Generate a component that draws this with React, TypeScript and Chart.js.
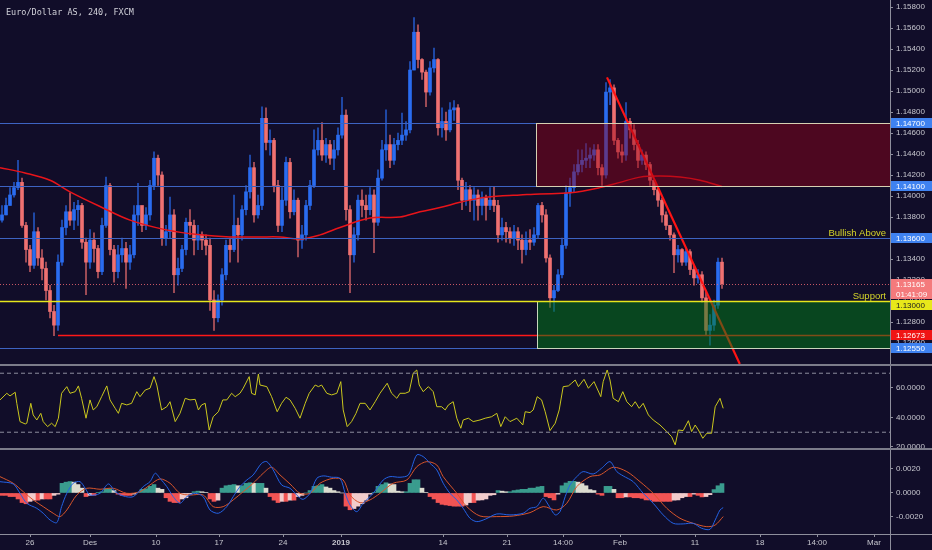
import React, { useEffect, useRef } from 'react';
import { Chart, registerables } from 'chart.js';

Chart.register(...registerables);

// ---------------- data ----------------
// time axis: candle index (one candle = one 8h step on screen)
const xTickPositions = [7, 22, 38.5, 54.25, 70.25, 84.75, 110.25, 126.25, 140.25, 154.5, 173.25, 189.5, 203.75, 218];
const xTickLabels = ['26', 'Des', '10', '17', '24', '2019', '14', '21', '14:00', 'Feb', '11', '18', '14:00', 'Mar'];
const priceTicks = [1.126, 1.128, 1.13, 1.132, 1.134, 1.136, 1.138, 1.14, 1.142, 1.144, 1.146, 1.148, 1.15, 1.152, 1.154, 1.156, 1.158];
const rsiTicks = [20, 40, 60];
const macdTicks = [-0.002, 0, 0.002];

const firstOpen = 1.1377;
const closes = [
  1.1382, 1.1391, 1.1401, 1.1408, 1.1413, 1.1372, 1.1349, 1.1334, 1.1366, 1.1341,
  1.1331, 1.1310, 1.1290, 1.1277, 1.1337, 1.1370, 1.1385, 1.1377, 1.1387, 1.1391,
  1.1356, 1.1337, 1.1358, 1.1350, 1.1328, 1.1372, 1.1410, 1.1349, 1.1328, 1.1344,
  1.1350, 1.1337, 1.1344, 1.1382, 1.1391, 1.1372, 1.1382, 1.1410, 1.1436, 1.1420,
  1.1360, 1.1366, 1.1382, 1.1325, 1.1331, 1.1349, 1.1375, 1.1372, 1.1358, 1.1363,
  1.1358, 1.1353, 1.1301, 1.1284, 1.1301, 1.1325, 1.1353, 1.1349, 1.1372, 1.1363,
  1.1387, 1.1404, 1.1427, 1.1382, 1.1391, 1.1474, 1.1451, 1.1453, 1.1410, 1.1372,
  1.1396, 1.1432, 1.1385, 1.1396, 1.1358, 1.1363, 1.1391, 1.1410, 1.1444, 1.1453,
  1.1439, 1.1449, 1.1436, 1.1444, 1.1458, 1.1477, 1.1387, 1.1344, 1.1363, 1.1396,
  1.1391, 1.1387, 1.1401, 1.1375, 1.1417, 1.1444, 1.1449, 1.1434, 1.1449, 1.1453,
  1.1458, 1.1463, 1.1520, 1.1556, 1.1530, 1.1518, 1.1499, 1.1522, 1.1530, 1.1465,
  1.1471, 1.1463, 1.1482, 1.1484, 1.1415, 1.1396, 1.1406, 1.1396, 1.1401, 1.1391,
  1.1398, 1.1391, 1.1396, 1.1391, 1.1363, 1.1370, 1.1366, 1.1360, 1.1366, 1.1358,
  1.1349, 1.1358, 1.1356, 1.1363, 1.1391, 1.1382, 1.1341, 1.1303, 1.1310, 1.1325,
  1.1353, 1.1403, 1.1408, 1.1423, 1.1430, 1.1434, 1.1436, 1.1439, 1.1444, 1.1427,
  1.1420, 1.1499, 1.1503, 1.1453, 1.1442, 1.1439, 1.1471, 1.1463, 1.1449, 1.1434,
  1.1439, 1.1430, 1.1415, 1.1406, 1.1396, 1.1382, 1.1372, 1.1363, 1.1344, 1.1349,
  1.1337, 1.1347, 1.1330, 1.1322, 1.1325, 1.1303, 1.1272, 1.1277, 1.1296, 1.1337,
  1.13165,
];
const highs = [
  1.1391, 1.1398, 1.1408, 1.1413, 1.1434, 1.1417, 1.1375, 1.1353, 1.1384, 1.1370,
  1.1349, 1.1337, 1.1315, 1.1296, 1.1344, 1.1377, 1.1391, 1.1403, 1.1394, 1.1396,
  1.1393, 1.1360, 1.1368, 1.1365, 1.1353, 1.1379, 1.1418, 1.1412, 1.1353, 1.1353,
  1.1360, 1.1356, 1.1353, 1.1391, 1.1412, 1.1387, 1.1389, 1.1415, 1.1442, 1.1439,
  1.1423, 1.1372, 1.1399, 1.1387, 1.1341, 1.1353, 1.1379, 1.1387, 1.1377, 1.1372,
  1.1366, 1.1363, 1.1360, 1.1310, 1.1306, 1.1331, 1.1358, 1.1360, 1.1401, 1.1379,
  1.1391, 1.1410, 1.1439, 1.1432, 1.1401, 1.1485, 1.1484, 1.1463, 1.1455, 1.1415,
  1.1408, 1.1437, 1.1436, 1.1406, 1.1398, 1.1372, 1.1396, 1.1415, 1.1463, 1.1465,
  1.1470, 1.1455, 1.1453, 1.1453, 1.1465, 1.1494, 1.1482, 1.1391, 1.1370, 1.1401,
  1.1406, 1.1401, 1.1408, 1.1406, 1.1425, 1.1453, 1.1482, 1.1458, 1.1455, 1.1460,
  1.1479, 1.1471, 1.1528, 1.1570, 1.1563, 1.1531, 1.1520, 1.1528, 1.1541, 1.1531,
  1.1484, 1.1480, 1.1489, 1.1491, 1.1487, 1.1417, 1.1413, 1.1410, 1.1408, 1.1406,
  1.1404, 1.1401, 1.1408, 1.1409, 1.1396, 1.1379, 1.1375, 1.1370, 1.1372, 1.1370,
  1.1363, 1.1366, 1.1368, 1.1370, 1.1393, 1.1394, 1.1387, 1.1344, 1.1315, 1.1330,
  1.1360, 1.1410, 1.1417, 1.1430, 1.1444, 1.1444, 1.1450, 1.1446, 1.1449, 1.1449,
  1.1430, 1.1508, 1.1511, 1.1506, 1.1455, 1.1449, 1.1489, 1.1474, 1.1468, 1.1453,
  1.1444, 1.1442, 1.1432, 1.1415, 1.1408, 1.1398, 1.1385, 1.1372, 1.1365, 1.1353,
  1.1350, 1.1350, 1.1349, 1.1334, 1.1330, 1.1328, 1.1309, 1.1287, 1.1301, 1.1341,
  1.1341,
];
const lows = [
  1.1375, 1.1382, 1.1391, 1.1399, 1.1406, 1.1370, 1.1337, 1.1328, 1.1331, 1.1334,
  1.1320, 1.1301, 1.1284, 1.1267, 1.1272, 1.1334, 1.1363, 1.1372, 1.1368, 1.1372,
  1.1350, 1.1306, 1.1331, 1.1337, 1.1322, 1.1325, 1.1370, 1.1344, 1.1318, 1.1322,
  1.1337, 1.1312, 1.1330, 1.1341, 1.1372, 1.1366, 1.1368, 1.1377, 1.1406, 1.1410,
  1.1353, 1.1353, 1.1360, 1.1308, 1.1315, 1.1328, 1.1344, 1.1363, 1.1344, 1.1349,
  1.1349, 1.1344, 1.1291, 1.1272, 1.1280, 1.1296, 1.1320, 1.1337, 1.1347, 1.1337,
  1.1358, 1.1382, 1.1398, 1.1375, 1.1379, 1.1387, 1.1444, 1.1439, 1.1404, 1.1366,
  1.1366, 1.1391, 1.1379, 1.1382, 1.1342, 1.1350, 1.1358, 1.1387, 1.1408, 1.1439,
  1.1434, 1.1432, 1.1430, 1.1425, 1.1439, 1.1455, 1.1377, 1.1308, 1.1337, 1.1358,
  1.1380, 1.1377, 1.1382, 1.1346, 1.1372, 1.1415, 1.1434, 1.1427, 1.1430, 1.1444,
  1.1449, 1.1453, 1.1460, 1.1520, 1.1522, 1.1511, 1.1485, 1.1496, 1.1518, 1.1458,
  1.1456, 1.1453, 1.1461, 1.1472, 1.1406, 1.1387, 1.1391, 1.1385, 1.1377, 1.1377,
  1.1382, 1.1377, 1.1387, 1.1385, 1.1356, 1.1358, 1.1356, 1.1355, 1.1353, 1.1349,
  1.1336, 1.1344, 1.1349, 1.1353, 1.1360, 1.1375, 1.1337, 1.1294, 1.1290, 1.1309,
  1.1322, 1.1350, 1.1390, 1.1404, 1.1420, 1.1423, 1.1427, 1.1427, 1.1434, 1.1420,
  1.1410, 1.1417, 1.1487, 1.1449, 1.1436, 1.1432, 1.1434, 1.1455, 1.1444, 1.1427,
  1.1430, 1.1425, 1.1410, 1.1401, 1.1390, 1.1375, 1.1368, 1.1358, 1.1327, 1.1337,
  1.1334, 1.1334, 1.1325, 1.1315, 1.1317, 1.1299, 1.1267, 1.1258, 1.1272, 1.1293,
  1.1312,
];
const opens = closes.map((c, i) => (i === 0 ? firstOpen : closes[i - 1]));

// moving average (red line)
const maTime = [-0.5, 5.75, 12, 17, 24.5, 32, 40.75, 49.5, 57, 64.5, 69.5, 74.5, 79.5, 84.5, 92, 99.5, 104.5, 109.5, 114.5, 119.5, 124.5, 129.5, 134.5, 142, 149.5, 154.5, 159.5, 164.5, 169.5, 174.5, 180];
const maValue = [1.1427, 1.1422, 1.1415, 1.1404, 1.1390, 1.1377, 1.1368, 1.1363, 1.1361, 1.1361, 1.1361, 1.1359, 1.1363, 1.1370, 1.1379, 1.1380, 1.1385, 1.1389, 1.1394, 1.1398, 1.1400, 1.1401, 1.1402, 1.1403, 1.1408, 1.1413, 1.1418, 1.1419, 1.1418, 1.1415, 1.1409];

// drawings
const trendTime = [151.25, 184.45];
const trendValue = [1.1513, 1.124];
const resistZone = [1.141, 1.147];
const supportZone = [1.1255, 1.13];
const zoneStart = [133.5, 133.75];
const levelValues = [1.147, 1.141, 1.136, 1.13165, 1.13, 1.12673, 1.1255];
const swingLowStart = 14;
const levelTexts = ['Bullish Above', 'Support'];
const countdownText = '01:41:09';

// RSI
const rsiTime = [
  -0.5, 1.2, 2, 3.3, 3.7, 4.5, 5.8, 6.2, 7.2, 7.8, 8.7, 9.7, 10.3, 11.4, 12.4, 13.3, 14.1, 14.9, 16.2, 17,
  18.3, 19.1, 19.9, 21, 22, 22.8, 23.7, 24.9, 26.2, 27, 28.3, 29.1, 29.9, 31.2, 32.4, 33.7, 34.5, 35.8, 37, 38,
  38.7, 39.9, 41.2, 42, 43.3, 44.5, 45.8, 47, 48.3, 49.1, 49.9, 50.8, 51.8, 52.8, 54.1, 55.2, 56.2, 57.4, 58.3, 59.5,
  60.3, 61.8, 62.4, 63.3, 64.1, 64.5, 66.2, 67.4, 68.8, 69.9, 71, 72, 73.3, 74.5, 75.8, 76.8, 78.3, 79.1, 79.9, 81.2,
  82.4, 83.7, 84.7, 85.3, 86.3, 87.4, 88.5, 89.5, 90.8, 92, 93.3, 94.5, 96.3, 97.4, 98.7, 99.5, 100.8, 101.8, 102.8, 103.7,
  104.3, 105.3, 106.6, 107.8, 108.7, 109.9, 110.8, 111.6, 112.8, 113.7, 114.7, 115.3, 116.6, 117.8, 119.5, 120.8, 122.4, 123.7, 124.7, 125.8,
  127, 128.7, 130.2, 130.8, 132, 132.8, 133.8, 134.9, 135.8, 137, 138.3, 139.3, 140.3, 141.6, 142.4, 143.3, 144.1, 145.5, 146.6, 148,
  149.7, 150.3, 151.3, 152, 152.8, 154.1, 155.2, 156.2, 157.4, 158.3, 159.3, 160.3, 161.6, 162.8, 164.5, 166.2, 167.4, 168.3, 169.1, 170.3,
  171.6, 172.4, 173.3, 174.1, 175.2, 176.2, 177.4, 178.3, 179.5, 180.3,
];
const rsiValue = [
  51.9, 56.4, 54.6, 57.1, 49.6, 37.2, 35.6, 36.1, 49.6, 41.7, 38.3, 42.8, 37.2, 33.8, 36.1, 33.8, 39.5, 56.4, 60.9, 56.4,
  57.5, 61.4, 53.0, 39.5, 51.9, 45.1, 47.3, 54.1, 61.4, 51.9, 46.2, 42.8, 49.6, 48.5, 49.6, 57.5, 54.1, 58.6, 59.8, 67.7,
  62.0, 45.1, 47.3, 50.7, 37.2, 42.8, 53.0, 51.9, 52.3, 45.1, 48.5, 49.6, 31.5, 40.5, 43.9, 51.9, 51.9, 56.4, 54.1, 56.4,
  59.8, 67.7, 56.4, 55.3, 69.5, 62.0, 60.9, 54.1, 43.9, 49.6, 53.7, 51.9, 46.2, 39.5, 49.6, 56.4, 62.0, 60.9, 62.0, 56.4,
  55.3, 56.4, 64.3, 45.1, 33.8, 37.2, 42.8, 49.6, 49.6, 45.1, 50.7, 56.4, 63.2, 56.4, 53.0, 56.4, 56.4, 57.5, 70.0, 72.2,
  62.0, 57.5, 60.9, 57.5, 47.3, 47.3, 45.1, 48.5, 50.7, 39.5, 32.7, 38.3, 39.5, 37.2, 38.3, 39.5, 40.5, 42.8, 33.8, 40.5,
  37.2, 39.5, 34.9, 43.9, 43.3, 45.1, 54.1, 51.9, 43.9, 31.1, 36.1, 45.1, 60.9, 61.4, 63.2, 65.4, 60.9, 65.9, 59.8, 64.3,
  54.1, 64.3, 72.2, 65.4, 53.0, 50.7, 57.5, 50.7, 47.3, 50.7, 46.2, 49.6, 41.7, 38.3, 34.9, 30.4, 27.0, 21.4, 31.5, 31.1,
  37.8, 30.4, 34.9, 31.5, 25.9, 29.3, 29.3, 47.3, 53.0, 46.2,
];
const rsiBands = [70, 30];

// MACD (values in units of 0.0001)
const macdTime = [
  -0.5, 2.8, 4.5, 6.2, 8.7, 10.3, 12, 13.7, 14.9, 16.2, 17.8, 19.5, 20.8, 22, 24.5, 26.6, 28.3, 30.3, 32.8, 35.3,
  37, 38.3, 39.5, 41.2, 42.8, 44.5, 46.2, 48.3, 50.3, 52, 54.1, 56.2, 57.8, 59.5, 61.2, 62.8, 64.9, 66.2, 67.8, 69.9,
  72, 74.1, 75.3, 77, 78.7, 80.3, 82.4, 84.5, 85.8, 87, 88.7, 90.3, 92.8, 95.3, 97, 99.5, 101.6, 103.7, 105.3, 107,
  108.7, 110.3, 112, 113.7, 115.3, 117, 118.7, 120.8, 123.7, 127, 130.3, 132, 133.7, 135.3, 136.6, 138.3, 139.5, 140.8, 142, 143.7,
  145.3, 147.8, 149.9, 152, 153.7, 155.3, 157.8, 160.3, 162.8, 165.3, 167.8, 170.3, 172.8, 174.9, 177, 178.3, 179.5, 180.3,
];
const macdLineE4 = [
  9.4, 7.5, -0.3, -8.6, -12.8, -16.9, -22.5, -24.7, -11.4, -0.3, 8.1, 9.4, 3.9, -1.7, -0.3, 7.5, 1.1, -2.5, -3.1, 5.3,
  9.4, 16.4, 12.2, 5.3, -3.1, -8.6, -3.1, -0.3, -3.1, -14.2, -16.9, -11.4, -3.1, 5.3, 10.8, 15.0, 24.7, 26.1, 19.2, 6.7,
  3.9, -3.1, -5.3, -0.3, 12.2, 14.2, 13.1, 12.2, -0.3, -10.0, -15.6, -8.6, -0.3, 10.8, 13.6, 13.1, 15.0, 31.7, 30.3, 24.7,
  19.2, 8.1, -0.3, -5.8, -12.8, -21.1, -23.9, -21.9, -17.5, -18.3, -16.9, -12.8, -11.4, -4.4, -10.0, -18.3, -15.6, -3.1, 6.7, 13.6,
  17.8, 15.8, 20.6, 26.1, 17.8, 14.2, 9.4, -0.3, -8.6, -18.3, -25.3, -25.8, -25.3, -29.4, -30.3, -22.5, -14.2, -12.2,
];
const signalTime = [
  -0.5, 2.8, 5.3, 7.8, 10.3, 12.8, 14.5, 16.2, 18.7, 21.2, 24.5, 27.8, 31.2, 34.5, 37, 39.5, 42, 44.5, 47, 50.3,
  52.8, 55.3, 57.8, 60.3, 62.8, 65.3, 67.4, 69.5, 72, 74.5, 77, 79.5, 82.8, 85.3, 87, 89.5, 92, 94.5, 97.8, 101.2,
  103.7, 106.2, 108.7, 110.3, 113.7, 116.2, 119.5, 123.7, 127.8, 132, 135.3, 138.7, 141.2, 143.7, 147, 149.5, 152.8, 156.2, 159.5, 162.8,
  166.2, 169.5, 172.8, 176.2, 178.3, 180.3,
];
const signalLineE4 = [
  13.6, 8.1, 1.1, -5.8, -11.4, -16.9, -19.7, -14.2, -1.7, 3.9, 3.1, 3.9, -0.3, 1.1, 6.7, 11.7, 8.1, -0.3, -1.7, -1.7,
  -11.4, -11.4, -5.8, 1.1, 8.1, 16.4, 21.4, 15.0, 7.5, -0.3, -0.3, 8.1, 12.2, 10.8, -1.7, -8.1, -5.8, -0.3, 8.1, 10.8,
  21.9, 26.1, 23.3, 13.6, -0.3, -11.4, -19.2, -19.7, -19.2, -16.4, -11.4, -14.2, -8.6, 5.3, 13.6, 15.0, 21.4, 17.8, 9.4, -0.3,
  -12.8, -21.1, -25.3, -28.1, -26.7, -19.7,
];
const histogramE4 = [
  -2, -2, -3, -3, -5, -8, -9, -7, -6, -6,
  -5, -5, -5, -2, -1, 8, 9, 9.5, 9, 7,
  4, -3, -2, -2, 0.5, 1, 3.5, 3.5, 2, -1,
  -2, -2, -2, -1, 0.3, 3, 3.5, 5.5, 7, 4,
  3, -4, -7, -8, -8, -5, -4, -1, 1, 1.5,
  1, 0.5, -5, -7, -6, 4, 6, 6.5, 7, 6,
  6, 8, 8.5, 8, 8, 8, 4, -3, -6, -8,
  -7, -7, -6, -6, -3, -2, 0, 2, 5.5, 6,
  7, 5, 4, 2, 1, 0, -11, -14, -13, -11,
  -9, -6, -1, 0.5, 5.5, 7, 8.5, 7.5, 7, 1.5,
  1, 1, 8, 11, 11, 4, 0.5, -3, -5, -8,
  -9.5, -10, -10.5, -11, -11, -11, -10, -8, -8, -6,
  -5.8, -5, -2, -1.5, 2, 1.5, 1, 1, 2, 2.5,
  3, 3, 4, 4, 5, 5.5, -3, -4, -5.8, -1,
  6, 8.3, 9.7, 9.7, 9, 7.8, 6, 2.8, 2, -1,
  -2, 5.5, 5.5, 3, -4, -4, -3.3, -3.3, -4, -4,
  -4.5, -5.8, -5.8, -7, -7, -7, -7, -7, -6, -5.8,
  -4, -3, -3, -1, -2, -3.3, -3, -1.4, 2.8, 6,
  7.8,
];
const E4 = 0.0001;

// ---------------- styles ----------------
const BG = '#110d29';
const AXIS = '#8e8e9c';
const SEP = '#7c7c8a';
const TXT = '#c6c6ce';
const FONT = '"Liberation Sans", Arial, sans-serif';
const UP = '#2a6cf0';
const DOWN = '#f07171';
const UP_WICK = 'rgba(42,108,240,0.75)';
const DOWN_WICK = 'rgba(240,113,113,0.75)';
const X_MIN = -0.5;
const X_MAX = 222;
const W = 932;
const AXIS_W = 42;

const xScale = (show: boolean) => ({
  type: 'linear',
  min: X_MIN,
  max: X_MAX,
  display: show,
  offset: false,
  afterFit: (s: any) => {
    s.paddingLeft = 0;
    s.paddingRight = 0;
    if (show) s.height = 16;
  },
  afterBuildTicks: (s: any) => {
    s.ticks = xTickPositions.map((v) => ({ value: v }));
  },
  ticks: {
    autoSkip: false,
    maxRotation: 0,
    minRotation: 0,
    padding: 1,
    color: TXT,
    font: (ctx: any) => ({ family: FONT, size: 8, weight: xTickLabels[ctx.index] === '2019' ? 'bold' : 'normal' }),
    callback: (_v: any, i: number) => xTickLabels[i],
  },
  grid: { display: true, offset: false, drawOnChartArea: false, drawTicks: true, tickLength: 3, color: AXIS },
  border: { display: false },
});

const yScale = (min: number, max: number, ticks: number[], digits: number) => ({
  type: 'linear',
  position: 'right',
  min,
  max,
  afterFit: (s: any) => {
    s.width = AXIS_W;
    s.paddingTop = 0;
    s.paddingBottom = 0;
  },
  afterBuildTicks: (s: any) => {
    s.ticks = ticks.map((v) => ({ value: v }));
  },
  ticks: {
    color: TXT,
    padding: 3,
    font: { family: FONT, size: 8 },
    callback: (v: any) => Number(v).toFixed(digits),
  },
  grid: { display: true, drawOnChartArea: false, drawTicks: true, tickLength: 3, color: AXIS },
  border: { display: false },
});

const baseOptions = {
  responsive: false,
  animation: false,
  events: [],
  layout: { padding: 0 },
  plugins: { legend: { display: false }, tooltip: { enabled: false } },
};

function drawTag(ctx: CanvasRenderingContext2D, x0: number, x1: number, yc: number, text: string, bg: string, fg: string) {
  ctx.fillStyle = bg;
  ctx.fillRect(x0, Math.round(yc - 5), x1 - x0, 10);
  ctx.fillStyle = fg;
  ctx.font = `8px ${FONT}`;
  ctx.textAlign = 'left';
  ctx.textBaseline = 'middle';
  ctx.fillText(text, x0 + 5, Math.round(yc) + 0.5);
}

const priceOverlay = {
  id: 'priceOverlay',
  afterDatasetsDraw(chart: any) {
    const { ctx, chartArea: ca, scales } = chart;
    const x = scales.x;
    const y = scales.y;
    const py = (v: number) => y.getPixelForValue(v);
    ctx.save();
    ctx.beginPath();
    ctx.rect(ca.left, ca.top, ca.right - ca.left, ca.bottom - ca.top);
    ctx.clip();

    const hline = (v: number, x0: number, color: string, width: number, dash: number[] = []) => {
      ctx.beginPath();
      ctx.setLineDash(dash);
      ctx.strokeStyle = color;
      ctx.lineWidth = width;
      const yy = Math.round(py(v)) + 0.5;
      ctx.moveTo(x0, yy);
      ctx.lineTo(ca.right, yy);
      ctx.stroke();
      ctx.setLineDash([]);
    };
    const [l1470, l1410, l1360, lLast, l1300, lLow, l1255] = levelValues;
    hline(l1470, ca.left, '#3d63c2', 1);
    hline(l1410, ca.left, '#3d63c2', 1);
    hline(l1360, ca.left, '#3d63c2', 1);
    hline(lLast, ca.left, 'rgba(230,100,110,0.85)', 1, [1, 2]);
    hline(lLow, x.getPixelForValue(swingLowStart), '#ff1818', 1.5);
    hline(l1255, ca.left, '#3d63c2', 1);

    // zones (semi-transparent, above the series)
    const zone = (lo: number, hi: number, t0: number, fill: string, stroke: string) => {
      const x0 = Math.round(x.getPixelForValue(t0)) + 0.5;
      const y0 = Math.round(py(hi)) + 0.5;
      const y1 = Math.round(py(lo)) + 0.5;
      ctx.fillStyle = fill;
      ctx.fillRect(x0, y0, ca.right - x0, y1 - y0);
      ctx.strokeStyle = stroke;
      ctx.lineWidth = 1;
      ctx.strokeRect(x0, y0, ca.right - x0 + 2, y1 - y0);
    };
    zone(resistZone[0], resistZone[1], zoneStart[0], 'rgba(150,0,22,0.45)', '#d6d0b2');
    zone(supportZone[0], supportZone[1], zoneStart[1], 'rgba(0,128,22,0.5)', '#c9d6bc');
    hline(l1300, ca.left, '#e6e61c', 1.5);

    ctx.fillStyle = '#d6d62a';
    ctx.font = `9.5px ${FONT}`;
    ctx.textAlign = 'right';
    ctx.textBaseline = 'alphabetic';
    ctx.fillText(levelTexts[0], ca.right - 4, py(l1360) - 2.5);
    ctx.fillText(levelTexts[1], ca.right - 4, py(l1300) - 2.5);
    ctx.restore();
  },
  afterDraw(chart: any) {
    const { ctx, chartArea: ca, scales } = chart;
    const y = scales.y;
    const x0 = ca.right + 1;
    const x1 = chart.width;
    const [l1470, l1410, l1360, lLast, l1300, lLow, l1255] = levelValues;
    ctx.save();
    const blue = '#3f82f0';
    drawTag(ctx, x0, x1, y.getPixelForValue(l1470), l1470.toFixed(5), blue, '#ffffff');
    drawTag(ctx, x0, x1, y.getPixelForValue(l1410), l1410.toFixed(5), blue, '#ffffff');
    drawTag(ctx, x0, x1, y.getPixelForValue(l1360), l1360.toFixed(5), blue, '#ffffff');
    drawTag(ctx, x0, x1, y.getPixelForValue(lLast), lLast.toFixed(5), '#f47a7c', '#ffffff');
    drawTag(ctx, x0, x1, y.getPixelForValue(lLast) + 10.5, countdownText, '#f47a7c', '#ffffff');
    drawTag(ctx, x0, x1, y.getPixelForValue(l1300) + 3.5, l1300.toFixed(5), '#e8e81a', '#202020');
    drawTag(ctx, x0, x1, y.getPixelForValue(lLow), lLow.toFixed(5), '#f01414', '#ffffff');
    drawTag(ctx, x0, x1, y.getPixelForValue(l1255), l1255.toFixed(5), blue, '#ffffff');
    ctx.restore();
  },
};

function priceConfig(): any {
  const idx = closes.map((_, i) => i);
  const isUp = idx.map((i) => closes[i] >= opens[i]);
  return {
    type: 'bar',
    data: {
      datasets: [
        {
          type: 'bar',
          data: idx.map((i) => ({ x: i, y: [lows[i], highs[i]] })),
          backgroundColor: isUp.map((u) => (u ? UP_WICK : DOWN_WICK)),
          grouped: false,
          categoryPercentage: 1,
          barPercentage: 1,
          maxBarThickness: 1,
          borderWidth: 0,
          order: 4,
        },
        {
          type: 'bar',
          data: idx.map((i) => ({ x: i, y: [opens[i], closes[i]] })),
          backgroundColor: isUp.map((u) => (u ? UP : DOWN)),
          grouped: false,
          categoryPercentage: 1,
          barPercentage: 1,
          maxBarThickness: 3,
          minBarLength: 1,
          borderWidth: 0,
          order: 3,
        },
        {
          type: 'line',
          data: maTime.map((t, i) => ({ x: t, y: maValue[i] })),
          borderColor: '#e8141a',
          borderWidth: 1.5,
          pointRadius: 0,
          tension: 0.35,
          order: 2,
        },
        {
          type: 'line',
          data: trendTime.map((t, i) => ({ x: t, y: trendValue[i] })),
          borderColor: '#ff1414',
          borderWidth: 2.2,
          pointRadius: 0,
          order: 1,
        },
      ],
    },
    options: {
      ...baseOptions,
      scales: { x: xScale(false), y: yScale(1.124, 1.15867, priceTicks, 5) },
    },
    plugins: [priceOverlay],
  };
}

function rsiConfig(): any {
  return {
    type: 'line',
    data: {
      datasets: [
        ...rsiBands.map((b) => ({
          data: [{ x: X_MIN, y: b }, { x: X_MAX, y: b }],
          borderColor: '#8e8e9e',
          borderWidth: 1,
          borderDash: [4, 3],
          pointRadius: 0,
        })),
        {
          data: rsiTime.map((t, i) => ({ x: t, y: rsiValue[i] })),
          borderColor: '#cbc81e',
          borderWidth: 1,
          pointRadius: 0,
          tension: 0,
        },
      ],
    },
    options: {
      ...baseOptions,
      scales: { x: xScale(false), y: yScale(19.3, 74.9, rsiTicks, 4) },
    },
  };
}

function macdConfig(): any {
  const histColors = histogramE4.map((v, i) => {
    const p = i > 0 ? histogramE4[i - 1] : 0;
    if (v >= 0) return v >= p ? '#3a9c8e' : '#dcdcd0';
    return v <= p ? '#f25454' : '#f2cccc';
  });
  return {
    type: 'bar',
    data: {
      datasets: [
        {
          type: 'bar',
          data: histogramE4.map((v, i) => ({ x: i, y: v * E4 })),
          backgroundColor: histColors,
          barThickness: 4,
          borderWidth: 0,
          order: 3,
        },
        {
          type: 'line',
          data: signalTime.map((t, i) => ({ x: t, y: signalLineE4[i] * E4 })),
          borderColor: '#d8552b',
          borderWidth: 1,
          pointRadius: 0,
          tension: 0.3,
          order: 2,
        },
        {
          type: 'line',
          data: macdTime.map((t, i) => ({ x: t, y: macdLineE4[i] * E4 })),
          borderColor: '#2463e6',
          borderWidth: 1,
          pointRadius: 0,
          tension: 0.3,
          order: 1,
        },
      ],
    },
    options: {
      ...baseOptions,
      scales: { x: xScale(true), y: yScale(-0.00342, 0.00358, macdTicks, 4) },
    },
  };
}

export default function App() {
  const priceRef = useRef<HTMLCanvasElement>(null);
  const rsiRef = useRef<HTMLCanvasElement>(null);
  const macdRef = useRef<HTMLCanvasElement>(null);

  useEffect(() => {
    document.body.style.margin = '0';
    document.body.style.background = BG;
    const charts = [
      new Chart(priceRef.current as HTMLCanvasElement, priceConfig()),
      new Chart(rsiRef.current as HTMLCanvasElement, rsiConfig()),
      new Chart(macdRef.current as HTMLCanvasElement, macdConfig()),
    ];
    return () => charts.forEach((c) => c.destroy());
  }, []);

  const abs = (left: number, top: number, width: number, height: number, extra: any = {}) => ({
    position: 'absolute' as const,
    left,
    top,
    width,
    height,
    ...extra,
  });

  return (
    <div style={{ position: 'fixed', left: 0, top: 0, width: W, height: 550, background: BG, overflow: 'hidden' }}>
      <div style={abs(W - AXIS_W, 0, 1, 550, { background: AXIS })} />
      <div style={abs(0, 364, W, 2, { background: SEP })} />
      <div style={abs(0, 448, W, 2, { background: SEP })} />
      <div style={abs(0, 534, W, 1, { background: AXIS })} />
      <canvas ref={priceRef} width={W} height={364} style={abs(0, 0, W, 364)} />
      <canvas ref={rsiRef} width={W} height={82} style={abs(0, 366, W, 82)} />
      <canvas ref={macdRef} width={W} height={100} style={abs(0, 450, W, 100)} />
      <div
        style={abs(6, 6, 300, 12, {
          color: '#d0d0d8',
          fontFamily: '"DejaVu Sans Mono", "Liberation Mono", monospace',
          fontSize: 8.5,
          lineHeight: '12px',
          whiteSpace: 'nowrap',
        })}
      >
        Euro/Dollar AS, 240, FXCM
      </div>
    </div>
  );
}
